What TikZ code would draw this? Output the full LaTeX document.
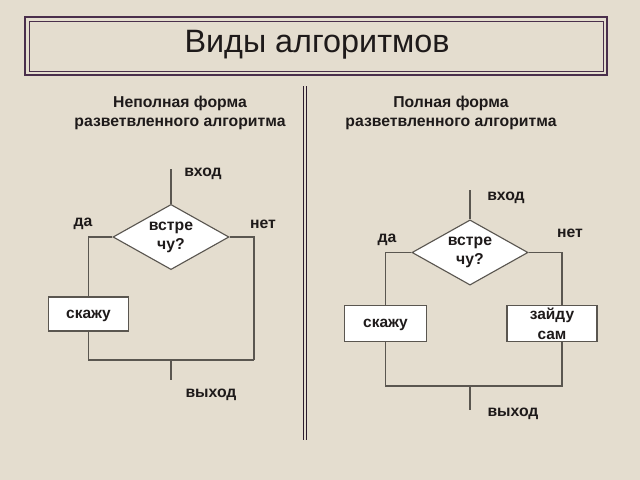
\documentclass[tikz,border=0pt]{standalone}
\usepackage{fontspec}
\setmainfont{Liberation Sans}
\usetikzlibrary{shapes.geometric}
\definecolor{paper}{HTML}{E4DDCF}
\definecolor{frame}{HTML}{4A2F4C}
\definecolor{ink}{HTML}{1E1A1A}
\definecolor{wire}{HTML}{5A5650}

\tikzset{
  lbl/.style={font=\bfseries\fontsize{11.2}{13.5}\selectfont, text=ink},
  ask/.style={diamond, draw=wire, fill=white, aspect=1.8, inner sep=0pt,
    minimum width=2.9cm, minimum height=1.63cm, align=center, lbl},
  act/.style={draw=wire, fill=white, inner sep=0pt, align=center, lbl,
    font=\bfseries\fontsize{11}{14}\selectfont, text depth=0pt}
}

\begin{document}
\begin{tikzpicture}[x=0.025cm, y=-0.025cm, line width=0.8pt, wire]
  \fill[paper] (0,0) rectangle (640,480);
  \useasboundingbox (0,0) rectangle (640,480);

  % title
  \draw[frame, line width=2pt] (25,17) rectangle (607,75);
  \draw[frame, line width=0.7pt] (29,21) rectangle (603,71);
  \node[text=ink, font=\fontsize{23}{27}\selectfont] (title) at (317,45) {Виды алгоритмов};

  % divider
  \draw[frame!60!black, line width=1.2pt] (303.5,86) -- (303.5,440);
  \draw[frame!60!black, line width=1.2pt] (306.5,86) -- (306.5,440);

  % left: incomplete form
  \node[lbl, align=center] (head1) at (180,113) {Неполная форма\\разветвленного алгоритма};
  \node[ask] (D1) at (171,237) {встре\\чу?};
  \coordinate (S1) at (171,169);
  \node[act, minimum width=2cm, minimum height=0.85cm] (B1) at (88.5,314) {скажу};
  \coordinate (R1) at (254,360);
  \coordinate (J1) at (171,360);
  \coordinate (E1) at (171,380);
  \node[lbl] (in1) at (203,174) {вход};
  \node[lbl] (yes1) at (83,224) {да};
  \node[lbl] (no1) at (263,224) {нет};
  \node[lbl] (out1) at (211,395) {выход};
  \draw (S1) -- (D1);
  \draw (D1.west) -| (B1.north);
  \draw (D1.east) -| (R1);
  \draw (B1.south) |- (R1);
  \draw (J1) -- (E1);

  % right: complete form
  \node[lbl, align=center] (head2) at (451,113) {Полная форма\\разветвленного алгоритма};
  \node[ask] (D2) at (470,252.5) {встре\\чу?};
  \coordinate (S2) at (470,190);
  \node[act, minimum width=2.03cm, minimum height=0.88cm] (B2) at (385.5,323.5) {скажу};
  \node[act, minimum width=2.25cm, minimum height=0.88cm] (B3) at (552,323.5) {зайду\\сам};
  \coordinate (R2) at (562,386);
  \coordinate (J2) at (470,386);
  \coordinate (E2) at (470,410);
  \node[lbl] (in2) at (506,198) {вход};
  \node[lbl] (yes2) at (387,240) {да};
  \node[lbl] (no2) at (570,233) {нет};
  \node[lbl] (out2) at (513,414) {выход};
  \draw (S2) -- (D2);
  \draw (D2.west) -| (B2.north);
  \draw (D2.east) -| (B3.north -| R2);
  \draw (B2.south) |- (R2) -- (B3.south -| R2);
  \draw (J2) -- (E2);
\end{tikzpicture}
\end{document}
